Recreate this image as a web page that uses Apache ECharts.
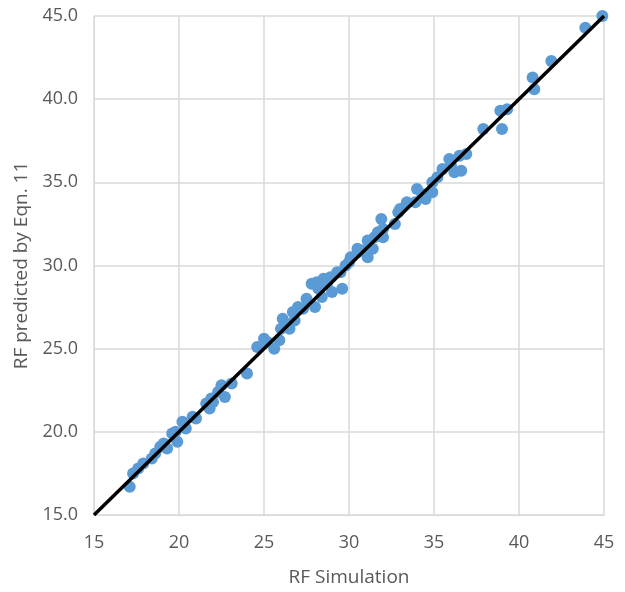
<!DOCTYPE html>
<html>
<head>
<meta charset="utf-8">
<script src="https://cdn.jsdelivr.net/npm/echarts@6/dist/echarts.min.js"></script>
<style>
  html, body { margin: 0; padding: 0; background: #fff; }
  #chart { width: 625px; height: 592px; }
</style>
</head>
<body>
<div id="chart"></div>
<script>
// RF from simulation vs RF predicted by Eqn. 11
const simRF = [
  17.1, 17.3, 17.6, 17.9, 18.4, 18.6, 19.1, 19.3, 19.6, 19.9,
  20.2, 20.4, 20.8, 21.0, 21.6, 21.8, 21.9, 22.3, 22.5, 22.7,
  23.1, 24.0, 24.6, 25.0, 25.6, 25.9, 26.0, 26.1, 26.3, 26.7,
  27.0, 26.8, 27.5, 27.8, 28.1, 28.0, 28.4, 28.5, 28.9, 29.0,
  29.3, 29.6, 29.5, 30.1, 30.0, 30.5, 30.5, 31.1, 31.1, 31.4,
  31.5, 31.9, 32.0, 32.0, 32.7, 32.9, 33.4, 33.9, 34.0, 34.3,
  34.5, 34.9, 34.9, 35.5, 35.9, 36.2, 36.5, 36.6, 36.9, 37.9,
  38.9, 39.3, 39.0, 40.8, 40.9, 41.9, 43.9, 44.9,
  28.2, 28.7, 27.3, 26.5, 22.0, 19.8, 33.0, 31.7, 29.8, 30.8,
  25.2, 18.9, 36.0, 35.2
];
const predRF = [
  16.7, 17.5, 17.8, 18.1, 18.4, 18.7, 19.3, 19.0, 19.9, 19.4,
  20.6, 20.2, 20.9, 20.8, 21.7, 21.4, 22.0, 22.4, 22.8, 22.1,
  22.9, 23.5, 25.1, 25.6, 25.0, 25.5, 26.2, 26.8, 26.5, 27.2,
  27.5, 26.7, 28.0, 28.9, 29.0, 27.5, 28.1, 29.2, 29.3, 28.4,
  29.6, 28.6, 29.6, 30.5, 30.2, 31.0, 30.8, 30.5, 31.5, 31.0,
  31.7, 32.8, 32.2, 31.7, 32.5, 33.2, 33.8, 33.8, 34.6, 34.3,
  34.0, 34.4, 35.0, 35.8, 36.4, 35.6, 36.6, 35.7, 36.7, 38.2,
  39.3, 39.4, 38.2, 41.3, 40.6, 42.3, 44.3, 45.0,
  28.6, 28.9, 27.4, 26.2, 21.8, 20.0, 33.4, 32.0, 30.0, 30.9,
  25.4, 19.1, 36.0, 35.3
];
// 1:1 reference line
const lineX = [15, 45];
const lineY = [15, 45];
const xTicks = [15, 20, 25, 30, 35, 40, 45];
const yTicks = [15, 20, 25, 30, 35, 40, 45];

const points = simRF.map((x, i) => [x, predRF[i]]);
const linePts = lineX.map((x, i) => [x, lineY[i]]);

const font = "'Open Sans', sans-serif";
const chart = echarts.init(document.getElementById('chart'), null, { renderer: 'canvas' });
chart.setOption({
  animation: false,
  backgroundColor: '#ffffff',
  grid: { left: 94, right: 21, top: 16, bottom: 76, containLabel: false },
  xAxis: {
    type: 'value',
    min: xTicks[0], max: xTicks[xTicks.length - 1], interval: 5,
    name: 'RF Simulation',
    nameLocation: 'middle',
    nameGap: 53,
    nameTextStyle: { color: '#595959', fontSize: 19, fontFamily: font },
    axisLine: { show: true, lineStyle: { color: '#d9d9d9', width: 1 } },
    axisTick: { show: false },
    axisLabel: { color: '#595959', fontSize: 18, fontFamily: font, margin: 19 },
    splitLine: { show: true, lineStyle: { color: '#d9d9d9', width: 1.5 } }
  },
  yAxis: {
    type: 'value',
    min: yTicks[0], max: yTicks[yTicks.length - 1], interval: 5,
    name: 'RF predicted by Eqn. 11',
    nameLocation: 'middle',
    nameGap: 57,
    nameRotate: 90,
    nameTextStyle: { color: '#595959', fontSize: 19, fontFamily: font },
    axisLine: { show: true, lineStyle: { color: '#d9d9d9', width: 1 } },
    axisTick: { show: false },
    axisLabel: {
      color: '#595959', fontSize: 18, fontFamily: font, margin: 16,
      formatter: v => v.toFixed(1)
    },
    splitLine: { show: true, lineStyle: { color: '#d9d9d9', width: 1.5 } }
  },
  series: [
    {
      type: 'scatter',
      data: points,
      symbol: 'circle',
      symbolSize: 12,
      itemStyle: { color: '#5b9bd5', opacity: 1 },
      z: 2
    },
    {
      type: 'line',
      data: linePts,
      symbol: 'none',
      lineStyle: { color: '#000000', width: 3.5 },
      z: 3
    }
  ]
});
</script>
</body>
</html>
